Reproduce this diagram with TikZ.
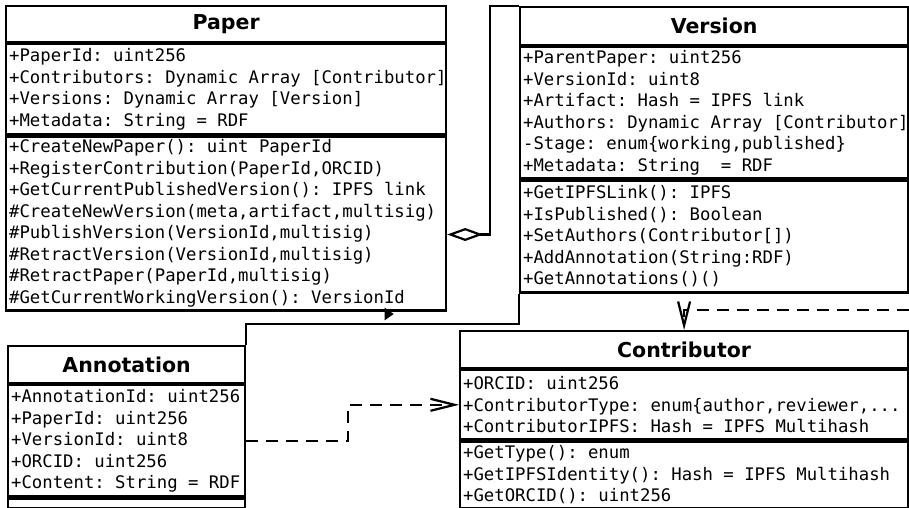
\documentclass[tikz,border=0pt]{standalone}
\usepackage{fontspec}
\setsansfont{DejaVu Sans}
\setmonofont{DejaVu Sans Mono}
\usetikzlibrary{positioning, arrows.meta, shapes.geometric}

\begin{document}
\begin{tikzpicture}[x=1pt, y=-1pt]
    \tikzstyle{classtitle} = [rectangle, draw=black, line width=2.2pt, inner sep=0pt, anchor=north west, font=\sffamily\bfseries\fontsize{20.5}{24}\selectfont]
    \tikzstyle{classpart} = [rectangle, draw=black, line width=2.2pt, inner xsep=3pt, inner ysep=0pt, align=flush left, font=\ttfamily\fontsize{17.3}{21.5}\selectfont, execute at begin node={\spaceskip=10.415pt\relax\xspaceskip=10.415pt\relax}]
    \tikzstyle{aggregation} = [line width=2.2pt, -{Diamond[open, length=36pt, width=13pt]}]
    \tikzstyle{dependency} = [line width=2.2pt, dash pattern=on 12pt off 8pt, -{Straight Barb[length=24pt, width=12pt]}]
    \tikzstyle{association} = [line width=2.2pt]

    \useasboundingbox (0,0) rectangle (909,507);

    % Paper
    \node (paperT) [classtitle, minimum width=440pt, minimum height=36pt] at (5,5) {Paper};
    \node (paperA) [classpart, text width=434pt, minimum height=90pt, below=0pt of paperT] {+PaperId: uint256\\
        \mbox{+Contributors: Dynamic Array [Contributor]}\\
        +Versions: Dynamic Array [Version]\\
        +Metadata: String = RDF};
    \node (paperM) [classpart, text width=434pt, minimum height=174pt, below=0pt of paperA] {+CreateNewPaper(): uint PaperId\\
        +RegisterContribution(PaperId,ORCID)\\
        +GetCurrentPublishedVersion(): IPFS link\\
        \#CreateNewVersion(meta,artifact,multisig)\\
        \#PublishVersion(VersionId,multisig)\\
        \#RetractVersion(VersionId,multisig)\\
        \#RetractPaper(PaperId,multisig)\\
        \#GetCurrentWorkingVersion(): VersionId};

    % Version
    \node (versionT) [classtitle, minimum width=388pt, minimum height=38pt] at (519,6) {Version};
    \node (versionA) [classpart, text width=382pt, minimum height=131pt, below=0pt of versionT] {+ParentPaper: uint256\\
        +VersionId: uint8\\
        +Artifact: Hash = IPFS link\\
        \mbox{+Authors: Dynamic Array [Contributor]}\\
        -Stage: enum\{working,published\}\\
        +Metadata: String\ \ = RDF};
    \node (versionM) [classpart, text width=382pt, minimum height=112pt, below=0pt of versionA] {+GetIPFSLink(): IPFS\\
        +IsPublished(): Boolean\\
        +SetAuthors(Contributor[])\\
        +AddAnnotation(String:RDF)\\
        +GetAnnotations()()};

    % Annotation
    \node (annotT) [classtitle, minimum width=237pt, minimum height=37pt] at (7,345) {Annotation};
    \node (annotA) [classpart, text width=231pt, minimum height=111pt, below=0pt of annotT] {\mbox{+AnnotationId: uint256}\\
        +PaperId: uint256\\
        +VersionId: uint8\\
        +ORCID: uint256\\
        \mbox{+Content: String = RDF}};
    \node (annotM) [classpart, text width=231pt, minimum height=10pt, below=0pt of annotA] {};

    % Contributor
    \node (contribT) [classtitle, minimum width=448pt, minimum height=37pt] at (459,330) {Contributor};
    \node (contribA) [classpart, text width=442pt, minimum height=69pt, below=0pt of contribT] {+ORCID: uint256\\
        \mbox{+ContributorType: enum\{author,reviewer,...}\\
        +ContributorIPFS: Hash = IPFS Multihash};
    \node (contribM) [classpart, text width=442pt, minimum height=67pt, below=0pt of contribA] {+GetType(): enum\\
        +GetIPFSIdentity(): Hash = IPFS Multihash\\
        +GetORCID(): uint256};

    % Arrows
    \draw [aggregation] (versionT.north west) -- ++(-29,0) |- ([yshift=-11pt]paperM.east);
    \draw [association] (annotT.north east) -- ++(0,-21) -| (versionM.south west);
    \node (assocdir) [isosceles triangle, isosceles triangle apex angle=70, fill=black, inner sep=0pt, minimum height=9pt] at (388,314) {};
    \draw [dependency] (annotA.east) -- ++(102,0) |- (contribA.west);
    \draw [dependency] ([yshift=-16pt]versionM.south east) -| (contribT.north);
\end{tikzpicture}
\end{document}
